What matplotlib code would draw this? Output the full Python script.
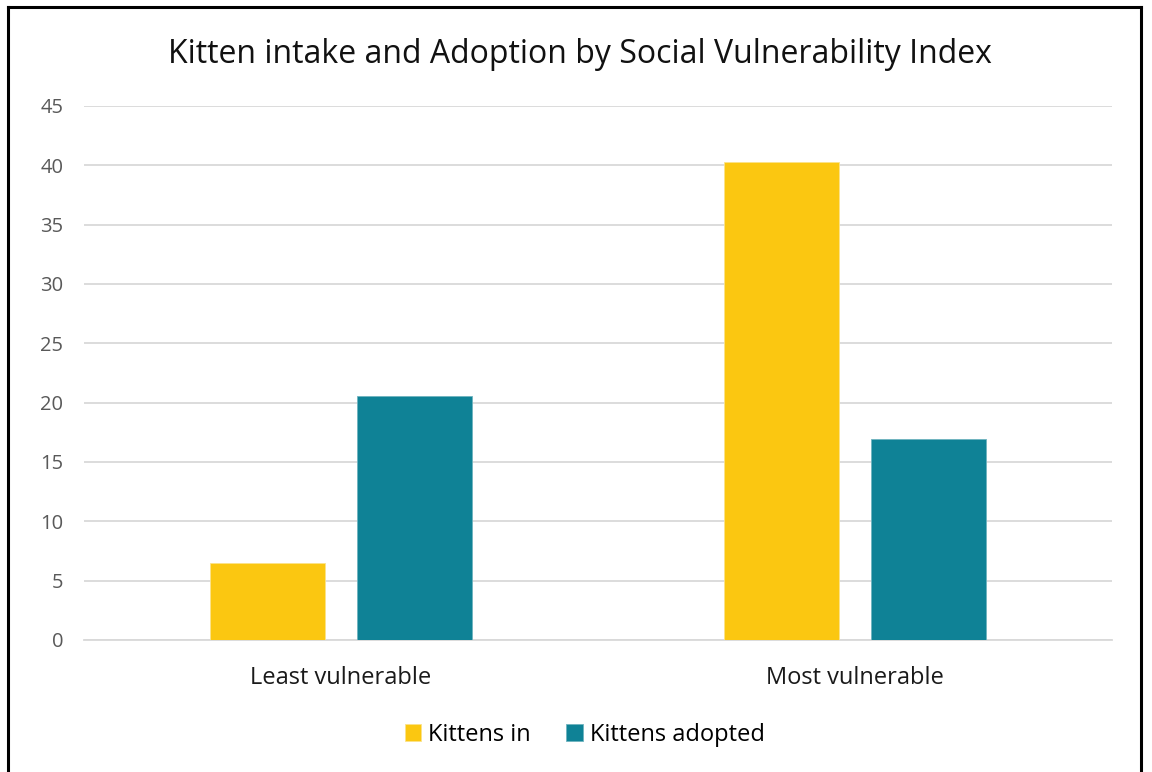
import matplotlib.pyplot as plt
import numpy as np
from matplotlib.lines import Line2D

# Kitten counts by social vulnerability group
categories = ["Least vulnerable", "Most vulnerable"]
kittens_in = [6.5, 40.3]
kittens_adopted = [20.6, 16.9]
y_ticks = [0, 5, 10, 15, 20, 25, 30, 35, 40, 45]

YELLOW = "#FBC711"
TEAL = "#0F8296"

plt.rcParams['font.family'] = ['Open Sans', 'DejaVu Sans']

fig = plt.figure(figsize=(11.52, 7.72), dpi=100)
ax = fig.add_axes([0.0729, 0.171, 0.8924, 0.6917])

x = np.arange(len(categories))
width = 0.224
offset = 0.143
ax.bar(x - offset, kittens_in, width, color=YELLOW, edgecolor="#FBE38A",
       linewidth=0.6, label="Kittens in", zorder=3)
ax.bar(x + offset, kittens_adopted, width, color=TEAL, edgecolor="#6FB3BF",
       linewidth=0.6, label="Kittens adopted", zorder=3)

ax.set_xlim(-0.5, 1.5)
ax.set_ylim(0, 45)
ax.set_yticks(y_ticks)
ax.set_xticks(x)
ax.set_xticklabels(categories, fontsize=17, color="#1a1a1a")
ax.tick_params(axis="y", labelsize=14.5, labelcolor="#595959", length=0, pad=15)
ax.tick_params(axis="x", length=0, pad=19)
ax.grid(axis="y", color="#D9D9D9", linewidth=1.3, zorder=0)
for side in ["top", "right", "left"]:
    ax.spines[side].set_visible(False)
ax.spines["bottom"].set_color("#D9D9D9")
ax.spines["bottom"].set_linewidth(1.3)

fig.text(0.503, 0.929, "Kitten intake and Adoption by Social Vulnerability Index",
         ha="center", va="center", fontsize=23, color="#111111")

ax.legend(loc="upper center", bbox_to_anchor=(0.487, -0.115), ncol=2, frameon=False,
          fontsize=17, handlelength=0.7, handleheight=0.7, handletextpad=0.3,
          columnspacing=1.5)

# black frame round the chart
frame = dict(color="black", linewidth=2.2, transform=fig.transFigure)
left, right, top = 8 / 1152, 1141 / 1152, 1 - 7 / 772
fig.add_artist(Line2D([left, right], [top, top], **frame))
fig.add_artist(Line2D([left, left], [top, 0], **frame))
fig.add_artist(Line2D([right, right], [top, 0], **frame))

fig.savefig("out.png", dpi=100)
